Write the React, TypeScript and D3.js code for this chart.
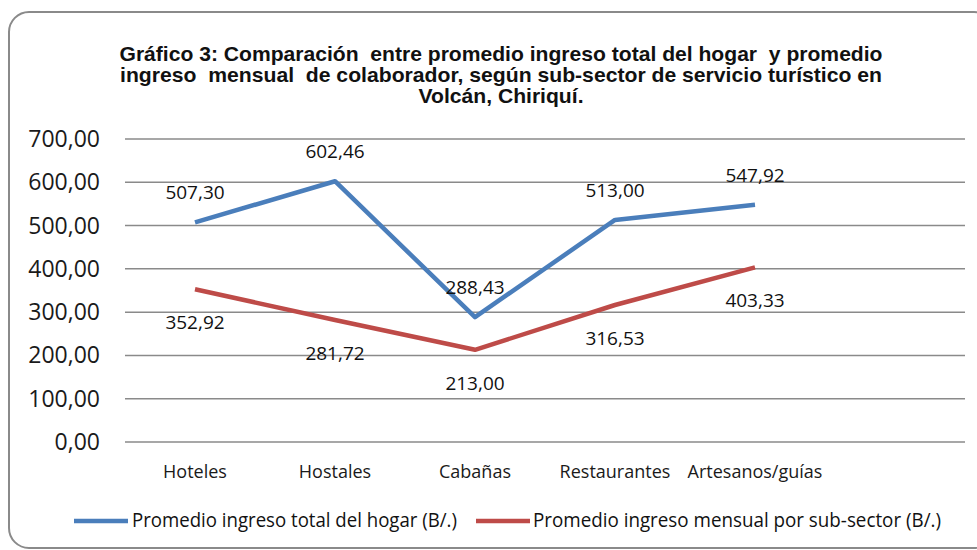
import React, { useEffect, useRef } from 'react';
import * as d3 from 'd3';

const categories = ['Hoteles', 'Hostales', 'Cabañas', 'Restaurantes', 'Artesanos/guías'];
const hogarValues = [507.3, 602.46, 288.43, 513.0, 547.92];
const subSectorValues = [352.92, 281.72, 213.0, 316.53, 403.33];
const yTicks = [0, 100, 200, 300, 400, 500, 600, 700];
const titleLines = [
  'Gráfico 3: Comparación  entre promedio ingreso total del hogar  y promedio',
  'ingreso  mensual  de colaborador, según sub-sector de servicio turístico en',
  'Volcán, Chiriquí.',
];
const seriesNames = [
  'Promedio ingreso total del hogar (B/.)',
  'Promedio ingreso mensual por sub-sector (B/.)',
];

const fmt = (v: number) => d3.format('.2f')(v).replace('.', ',');

function App() {
  const svgRef = useRef<SVGSVGElement>(null);

  useEffect(() => {
    const svg = d3.select(svgRef.current);
    svg.selectAll('*').remove();

    const width = 977;
    const height = 550;
    const left = 125, right = 965, top = 139, bottom = 442;
    const font = "'Open Sans', sans-serif";

    svg.attr('width', width).attr('height', height);

    // chart frame
    svg.append('rect')
      .attr('x', 9).attr('y', 12)
      .attr('width', 985).attr('height', 536)
      .attr('rx', 20)
      .attr('fill', '#fff')
      .attr('stroke', '#8a8a8a')
      .attr('stroke-width', 2);

    // title
    const titleW = [763, 762, 165];
    titleLines.forEach((t, i) => {
      svg.append('text')
        .attr('x', 501)
        .attr('y', 61 + i * 21)
        .attr('text-anchor', 'middle')
        .attr('font-family', "'Liberation Sans', Arial, sans-serif")
        .attr('font-weight', 'bold')
        .attr('font-size', 20.5)
        .attr('fill', '#111')
        .attr('textLength', titleW[i])
        .attr('lengthAdjust', 'spacingAndGlyphs')
        .style('white-space', 'pre')
        .text(t);
    });

    const x = d3.scaleBand<string>()
      .domain([...categories, ''])
      .range([left, right]);
    const cx = (c: string) => (x(c) as number) + x.bandwidth() / 2;

    const y = d3.scaleLinear().domain([0, 700]).range([bottom, top]);

    // gridlines + y labels
    const yAxis = svg.append('g');
    yTicks.forEach((t) => {
      yAxis.append('line')
        .attr('x1', left).attr('x2', right)
        .attr('y1', y(t)).attr('y2', y(t))
        .attr('stroke', '#8a8a8a')
        .attr('stroke-width', 1.5);
      yAxis.append('text')
        .attr('x', 100)
        .attr('y', y(t) + 8)
        .attr('text-anchor', 'end')
        .attr('font-family', font)
        .attr('font-size', 23)
        .attr('fill', '#1a1a1a')
        .text(fmt(t));
    });

    // category labels
    categories.forEach((c) => {
      svg.append('text')
        .attr('x', cx(c))
        .attr('y', 478)
        .attr('text-anchor', 'middle')
        .attr('font-family', font)
        .attr('font-size', 18)
        .attr('fill', '#1a1a1a')
        .text(c);
    });

    const series = [
      { values: hogarValues, color: '#4a7ebb', dy: -23 },
      { values: subSectorValues, color: '#be4b48', dy: 40 },
    ];

    const line = d3.line<number>()
      .x((_, i) => cx(categories[i]))
      .y((d) => y(d));

    series.forEach((s) => {
      svg.append('path')
        .datum(s.values)
        .attr('d', line)
        .attr('fill', 'none')
        .attr('stroke', s.color)
        .attr('stroke-width', 4.5)
        .attr('stroke-linejoin', 'round');

      svg.selectAll(null)
        .data(s.values)
        .enter()
        .append('text')
        .attr('x', (_, i) => cx(categories[i]))
        .attr('y', (d) => y(d) + s.dy)
        .attr('text-anchor', 'middle')
        .attr('font-family', font)
        .attr('font-size', 19)
        .attr('fill', '#111')
        .text((d) => fmt(d));
    });

    // legend
    const legendItems = [
      { x: 74, tx: 132, w: 325 },
      { x: 476, tx: 533, w: 408 },
    ];
    legendItems.forEach((l, i) => {
      svg.append('line')
        .attr('x1', l.x).attr('x2', l.x + 54)
        .attr('y1', 521).attr('y2', 521)
        .attr('stroke', series[i].color)
        .attr('stroke-width', 4.5);
      svg.append('text')
        .attr('x', l.tx)
        .attr('y', 527)
        .attr('font-family', font)
        .attr('font-size', 19.5)
        .attr('fill', '#111')
        .attr('textLength', l.w)
        .attr('lengthAdjust', 'spacingAndGlyphs')
        .text(seriesNames[i]);
    });
  }, []);

  return (
    <div style={{ position: 'absolute', left: 0, top: 0 }}>
      <svg ref={svgRef}></svg>
    </div>
  );
}

export default App;
